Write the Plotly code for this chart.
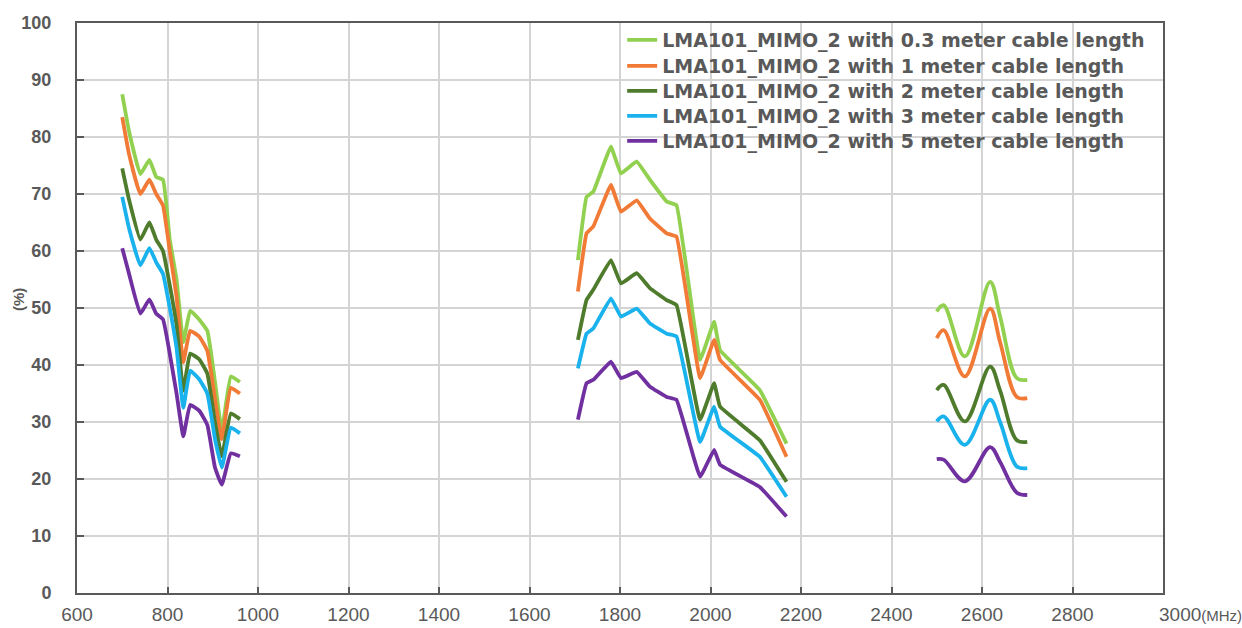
import plotly.graph_objects as go

# Frequency points (MHz) for the three measured bands
band_low_mhz = [700, 715, 740, 760, 775, 790, 805, 820, 835, 850, 870, 888, 905, 920, 940, 960]
band_mid_mhz = [1707, 1726, 1741, 1780, 1802, 1837, 1866, 1903, 1925, 1977, 2008, 2021, 2109, 2168]
band_high_mhz = [2500, 2515, 2562, 2618, 2640, 2677, 2700]

# Efficiency (%) per cable length
eff_03m_low = [87.5, 81, 73.5, 76, 73, 72.5, 62, 55, 44, 49.5, 48, 46, 37, 28.5, 38, 37]
eff_03m_mid = [58.4, 69.5, 70.4, 78.3, 73.6, 75.7, 72.5, 68.7, 68.0, 40.9, 47.6, 42.6, 35.6, 26.2]
eff_03m_high = [49.4, 50.5, 41.5, 54.6, 48.5, 37.7, 37.4]

eff_1m_low = [83.5, 77, 70, 72.5, 70, 68, 60, 52, 40.5, 46, 45, 42.5, 34, 27, 36, 35]
eff_1m_mid = [52.9, 63.1, 64.3, 71.6, 66.9, 68.9, 65.7, 63.1, 62.5, 37.7, 44.4, 40.9, 33.9, 23.9]
eff_1m_high = [44.7, 46.1, 38.0, 49.9, 44.0, 34.4, 34.2]

eff_2m_low = [74.5, 69, 62, 65, 62, 60, 54, 47, 35.5, 42, 41, 38.5, 30, 24, 31.5, 30.5]
eff_2m_mid = [44.4, 51.4, 53.2, 58.4, 54.3, 56.1, 53.5, 51.4, 50.5, 30.4, 36.8, 32.7, 26.8, 19.5]
eff_2m_high = [35.6, 36.5, 30.1, 39.7, 35.5, 26.8, 26.5]

eff_3m_low = [69.5, 64, 57.5, 60.5, 58, 56, 50, 43, 32.5, 39, 37.5, 35, 27, 22, 29, 28]
eff_3m_mid = [39.4, 45.5, 46.4, 51.7, 48.5, 49.9, 47.3, 45.5, 45.0, 26.5, 32.7, 29.2, 23.9, 16.9]
eff_3m_high = [30.1, 31.0, 26.0, 33.9, 30.0, 22.2, 21.9]

eff_5m_low = [60.5, 56, 49, 51.5, 49, 48, 42, 35, 27.5, 33, 32, 29.5, 22, 19, 24.5, 24]
eff_5m_mid = [30.4, 36.8, 37.4, 40.6, 37.7, 38.8, 36.2, 34.4, 33.9, 20.4, 25.1, 22.5, 18.6, 13.4]
eff_5m_high = [23.5, 23.4, 19.6, 25.6, 23.0, 17.6, 17.2]

series_names = [
    "LMA101_MIMO_2 with 0.3 meter cable length",
    "LMA101_MIMO_2 with 1 meter cable length",
    "LMA101_MIMO_2 with 2 meter cable length",
    "LMA101_MIMO_2 with 3 meter cable length",
    "LMA101_MIMO_2 with 5 meter cable length",
]
series_low = [eff_03m_low, eff_1m_low, eff_2m_low, eff_3m_low, eff_5m_low]
series_mid = [eff_03m_mid, eff_1m_mid, eff_2m_mid, eff_3m_mid, eff_5m_mid]
series_high = [eff_03m_high, eff_1m_high, eff_2m_high, eff_3m_high, eff_5m_high]

x_tick_vals = [600, 800, 1000, 1200, 1400, 1600, 1800, 2000, 2200, 2400, 2600, 2800, 3000]
x_tick_text = ["600", "800", "1000", "1200", "1400", "1600", "1800", "2000",
               "2200", "2400", "2600", "2800", ""]
y_tick_vals = [0, 10, 20, 30, 40, 50, 60, 70, 80, 90, 100]

colors = ["#92D050", "#F07A36", "#4E7B2C", "#1AB2EC", "#7030A0"]
legend_keys = ["legend", "legend2", "legend3", "legend4", "legend5"]
legend_rows = [0.970, 0.9246, 0.8807, 0.8368, 0.793]

GRAY = "#595959"
fig = go.Figure()

for i, name in enumerate(series_names):
    common = dict(mode="lines", name=name, legendgroup=name, legend=legend_keys[i])
    fig.add_trace(go.Scatter(
        x=band_low_mhz, y=series_low[i], showlegend=True,
        line=dict(color=colors[i], width=3.8, shape="spline", smoothing=0.35), **common))
    fig.add_trace(go.Scatter(
        x=band_mid_mhz, y=series_mid[i], showlegend=False,
        line=dict(color=colors[i], width=3.8, shape="spline", smoothing=0.25), **common))
    fig.add_trace(go.Scatter(
        x=band_high_mhz, y=series_high[i], showlegend=False,
        line=dict(color=colors[i], width=3.8, shape="spline", smoothing=1.0), **common))

legend_font = dict(family="DejaVu Sans", size=19, color=GRAY, weight="bold")
layout_legends = {}
for key, row in zip(legend_keys, legend_rows):
    layout_legends[key] = dict(
        x=0.502, xanchor="left", y=row, yanchor="middle",
        bgcolor="rgba(0,0,0,0)", borderwidth=0, font=legend_font,
        itemwidth=30, tracegroupgap=0,
    )

tick_font = dict(family="Liberation Sans", size=19, color=GRAY)

fig.update_layout(
    width=1242, height=628,
    margin=dict(l=77, r=79, t=23, b=35, autoexpand=False),
    paper_bgcolor="white", plot_bgcolor="white",
    **layout_legends,
    xaxis=dict(
        range=[600, 3000], tickvals=x_tick_vals, ticktext=x_tick_text,
        showgrid=True, gridcolor="#D4D4D4", gridwidth=2,
        showline=True, linecolor=GRAY, linewidth=2, mirror=True,
        ticks="inside", ticklen=6, tickcolor=GRAY, tickwidth=1.5,
        tickfont=tick_font, ticklabelstandoff=3, automargin=False,
        zeroline=False,
    ),
    yaxis=dict(
        range=[0, 100], tickvals=y_tick_vals,
        showgrid=True, gridcolor="#D4D4D4", gridwidth=2,
        showline=True, linecolor=GRAY, linewidth=2, mirror=True,
        ticks="inside", ticklen=7, tickcolor=GRAY, tickwidth=1.5,
        tickfont=dict(family="Liberation Sans", size=18, color=GRAY, weight="bold"),
        ticklabelstandoff=20, automargin=False,
        zeroline=False,
    ),
    shapes=[dict(
        type="rect", xref="paper", yref="paper", layer="between",
        x0=0.5046, x1=0.997, y0=0.7596, y1=0.997,
        fillcolor="white", line=dict(width=0),
    )],
    annotations=[
        dict(
            x=3000, y=0, xref="x", yref="paper", xanchor="left", yanchor="top",
            xshift=-6, yshift=-9, showarrow=False,
            text="3000<span style='font-size:15px'>(MHz)</span>",
            font=tick_font,
        ),
        dict(
            x=0, y=0.514, xref="paper", yref="paper", xanchor="center", yanchor="middle",
            xshift=-59, showarrow=False, textangle=-90, text="(%)",
            font=dict(family="Liberation Sans", size=15, color=GRAY, weight="bold"),
        ),
    ],
)

fig.write_html("out.html")
